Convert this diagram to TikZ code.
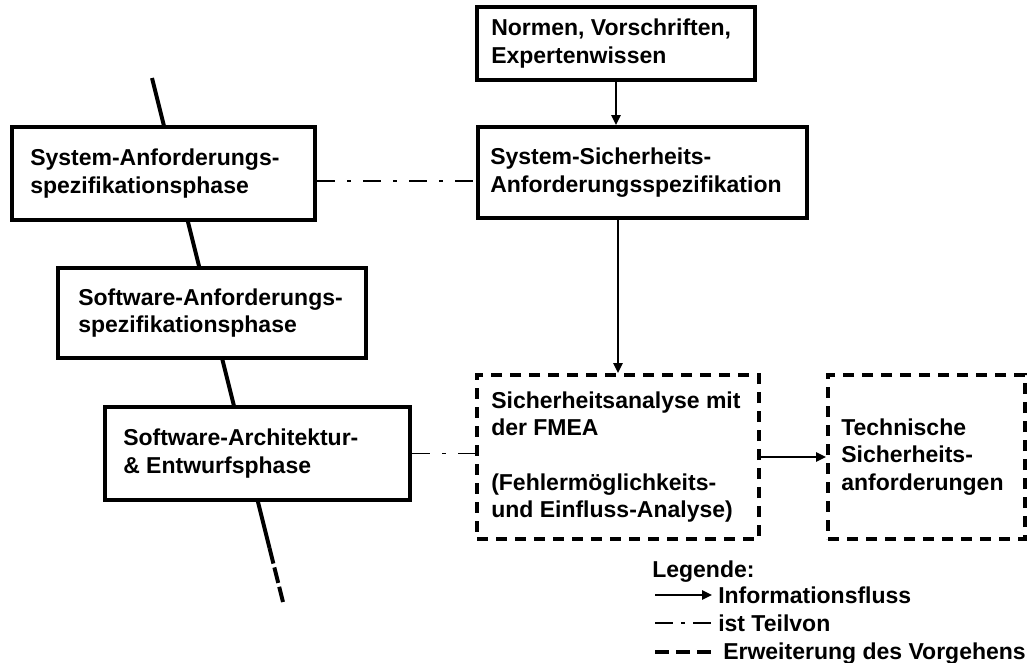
\documentclass[tikz,border=0pt]{standalone}
\usepackage{fontspec}
\setmainfont{Liberation Sans}
\usetikzlibrary{arrows.meta}
\begin{document}
\begin{tikzpicture}[x=0.75pt,y=-0.75pt,
  every node/.style={font=\fontsize{17.25pt}{20.6pt}\selectfont\bfseries},
  sbox/.style={draw, line width=3pt, fill=white, inner sep=0pt},
  dbox/.style={draw, line width=3pt, fill=white, inner sep=0pt, dash pattern=on 8.25pt off 6pt},
  txt/.style={anchor=west, align=left, inner sep=0pt},
  ltxt/.style={anchor=base west, inner sep=0pt},
  flow/.style={line width=1.2pt, -{Triangle[length=7.5pt,width=7pt]}},
  part/.style={line width=1.1pt, dash pattern=on 13.5pt off 9pt on 3pt off 9pt},
  partlegend/.style={line width=1.1pt, dash pattern=on 13.5pt off 6pt on 3pt off 6pt},
  phase/.style={line width=3pt},
  ext/.style={line width=3pt, dash pattern=on 10.5pt off 5.25pt},
]
\useasboundingbox (0,0) rectangle (1035,662);

% phase line
\coordinate (l1) at (152,78);
\coordinate (l2) at (269.5,548);
\coordinate (l3) at (283,602);
\draw[phase] (l1) -- (l2);
\draw[phase, dash pattern=on 12pt off 3pt] (l2) -- (l3);

% boxes
\node[sbox, minimum width=208.5pt, minimum height=54.75pt] (normen) at (616,43.5) {};
\node[txt] (normenT) at ([xshift=12pt]normen.west) {Normen, Vorschriften,\\Expertenwissen};

\node[sbox, minimum width=246.75pt, minimum height=68.25pt] (syssich) at (642.5,172.5) {};
\node[txt] (syssichT) at ([xshift=10.5pt]syssich.west) {System-Sicherheits-\\Anforderungsspezifikation};

\node[sbox, minimum width=227.25pt, minimum height=69.75pt] (sysanf) at (163.5,173.5) {};
\node[txt] (sysanfT) at ([xshift=15pt]sysanf.west) {System-Anforderungs-\\spezifikationsphase};

\node[sbox, minimum width=231pt, minimum height=67.5pt] (swanf) at (212,313) {};
\node[txt] (swanfT) at ([xshift=16.5pt]swanf.west) {Software-Anforderungs-\\spezifikationsphase};

\node[sbox, minimum width=228.75pt, minimum height=69.75pt] (swarch) at (257.5,453.5) {};
\node[txt] (swarchT) at ([xshift=15pt]swarch.west) {Software-Architektur-\\\& Entwurfsphase};

\node[dbox, minimum width=211.5pt, minimum height=123pt] (fmea) at (618,457) {};
\node[txt] (fmeaT) at ([xshift=12pt]fmea.west) {Sicherheitsanalyse mit\\der FMEA\\\mbox{}\\(Fehlermöglichkeits-\\und Einfluss-Analyse)};

\node[dbox, minimum width=147.75pt, minimum height=123pt] (tech) at (926.5,457) {};
\node[txt] (techT) at ([xshift=11.25pt]tech.west) {Technische\\Sicherheits-\\anforderungen};

% connectors
\draw[flow] (normen.south) -- (normen.south |- syssich.north);
\draw[flow] (fmea.north |- syssich.south) -- (fmea.north);
\draw[flow] (fmea.east) -- (tech.west);
\coordinate (c1) at (0,181);
\draw[part] (sysanf.east |- c1) -- (syssich.west |- c1);
\draw[part] (swarch.east) -- (swarch.east -| fmea.west);

% legend
\node[ltxt] (leg) at (652,577) {Legende:};
\coordinate (a1) at (655,595);
\coordinate (a2) at (712,595);
\draw[flow] (a1) -- (a2);
\node[ltxt] (t1) at (718,603) {Informationsfluss};
\coordinate (b1) at (655,623);
\coordinate (b2) at (712,623);
\draw[partlegend] (b1) -- (b2);
\node[ltxt] (t2) at (718,631) {ist Teilvon};
\coordinate (d1) at (655,652);
\coordinate (d2) at (712,652);
\draw[ext] (d1) -- (d2);
\node[ltxt] (t3) at (723,659) {Erweiterung des Vorgehens};
\end{tikzpicture}
\end{document}
